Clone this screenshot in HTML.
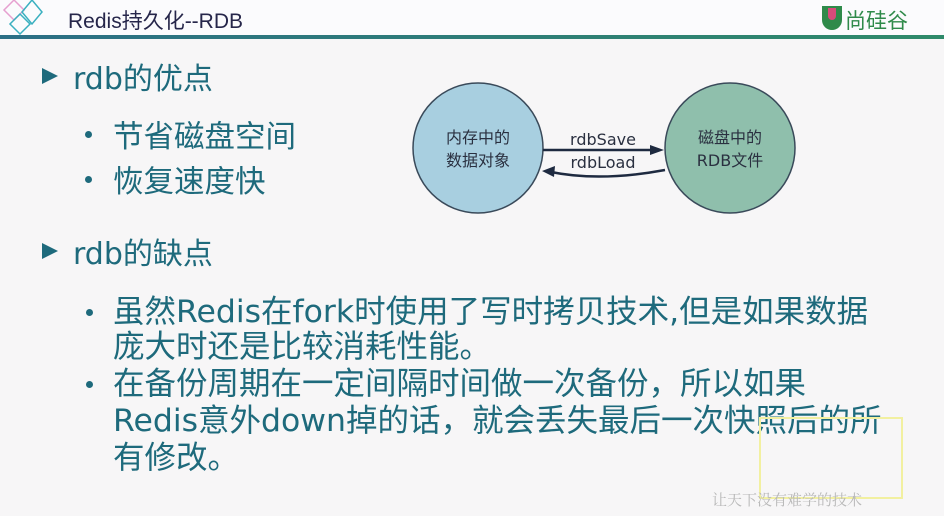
<!DOCTYPE html>
<html><head><meta charset="utf-8"><style>
body{margin:0;width:944px;height:516px;overflow:hidden;background:#f7f6f7;font-family:"DejaVu Sans","Noto Sans CJK SC",sans-serif;position:relative}
.hdr{position:absolute;left:0;top:0;width:944px;height:36px;background:#fbfbfd}
.line{position:absolute;left:0;top:35px;width:944px;height:4px;background:linear-gradient(90deg,#2c6f86,#2f8a6a)}
.t{position:absolute;white-space:nowrap;color:#1e6a7c}
.title{position:absolute;left:68px;top:5px;font-size:21px;color:#26264a;font-family:"Liberation Sans","Noto Sans CJK SC",sans-serif}
.h{font-size:30px}
.b{font-size:30.5px}
.dot{position:absolute;width:7px;height:7px;border-radius:50%;background:#1e6a7c}
.arr{position:absolute;width:0;height:0;border-top:8px solid transparent;border-bottom:8px solid transparent;border-left:16px solid #1e6a7c}
</style></head><body>
<div class="hdr"></div><div class="line"></div>
<svg style="position:absolute;left:0;top:0" width="60" height="40">
<g fill="none" stroke-width="1.5"><path d="M14 0 L24 10 L14 20 L4 10Z" stroke="#e6a0d0"/><path d="M32 0 L42 12 L32 24 L22 12Z" stroke="#3ab0c0"/><path d="M20 14 L30 24 L20 34 L10 24Z" stroke="#3ab0c0"/></g></svg>
<div class="title">Redis持久化--RDB</div>
<div style="position:absolute;left:822px;top:6px;width:20px;height:24px;border-radius:0 0 10px 10px;background:#2f8a4a"></div>
<div style="position:absolute;left:828px;top:8px;width:8px;height:12px;border-radius:0 0 4px 4px;background:#d84a7a"></div>
<div class="t" style="left:845px;top:5px;font-size:21px;color:#2f8a4a">尚硅谷</div>

<div class="arr" style="left:42px;top:68px"></div>
<div class="t h" style="left:73px;top:54px">rdb的优点</div>
<div class="dot" style="left:85px;top:131px"></div>
<div class="t b" style="left:113px;top:112px">节省磁盘空间</div>
<div class="dot" style="left:85px;top:176px"></div>
<div class="t b" style="left:113px;top:157px">恢复速度快</div>
<div class="arr" style="left:42px;top:243px"></div>
<div class="t h" style="left:73px;top:229px">rdb的缺点</div>

<div class="dot" style="left:86px;top:309px"></div>
<div class="t b" style="left:113px;top:295px;font-size:31.5px;line-height:35px">虽然Redis在fork时使用了写时拷贝技术,但是如果数据<br>庞大时还是比较消耗性能。</div>
<div class="dot" style="left:86px;top:381px"></div>
<div class="t b" style="left:113px;top:366px;font-size:31.5px;line-height:37px">在备份周期在一定间隔时间做一次备份，所以如果<br>Redis意外down掉的话，就会丢失最后一次快照后的所<br>有修改。</div>

<svg style="position:absolute;left:0;top:0" width="944" height="516">
<rect x="760" y="418" width="142" height="80" fill="none" stroke="#f2f0a0" stroke-width="2"/>
<circle cx="478" cy="148" r="65" fill="#a8cfe0" stroke="#3a4a5a" stroke-width="1.5"/>
<circle cx="730" cy="148" r="65" fill="#8fbfac" stroke="#3a4a5a" stroke-width="1.5"/>
<line x1="543" y1="150" x2="655" y2="150" stroke="#1e2a40" stroke-width="2.5"/>
<path d="M664 150 L650 145 L650 155Z" fill="#1e2a40"/>
<path d="M665 170 Q600 182 551 172" fill="none" stroke="#1e2a40" stroke-width="2.5"/>
<path d="M542 171 L555 166 L554 177Z" fill="#1e2a40"/>
<g font-family="DejaVu Sans, Noto Sans CJK SC, sans-serif" font-size="16" fill="#2a3040" text-anchor="middle">
<text x="603" y="145">rdbSave</text><text x="603" y="168">rdbLoad</text>
<text x="478" y="143">内存中的</text><text x="478" y="166">数据对象</text>
<text x="730" y="143">磁盘中的</text><text x="730" y="166">RDB文件</text>
</g>
<text x="712" y="505" font-size="15" fill="#b8b8b8" font-family="Noto Serif CJK SC, serif">让天下没有难学的技术</text>
</svg>
</body></html>
